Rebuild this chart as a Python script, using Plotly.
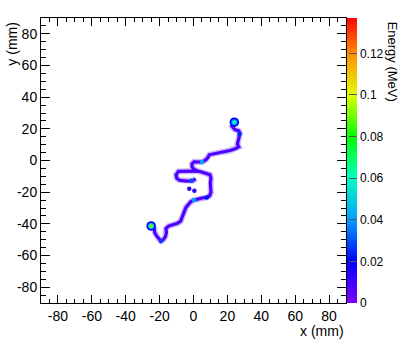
import plotly.graph_objects as go
from plotly.colors import sample_colorscale

# ---------------- data (mm / MeV) ----------------
# main track, from the upper hot spot down to the lower hot spot
track_x = [24.1, 22.7, 24.3, 26.7, 27.4, 26.9, 26.1, 25.9, 26.7, 24.3, 21.5, 18.8,
           16.4, 14.1, 11.3, 9.3, 8.6, 7.2, 5.0, 2.7, 0.3, -0.9, -0.9, -0.1, 1.9,
           4.8, 7.8, 9.7, 10.3, 9.9, 10.1, 10.3, 9.5, 7.8, 5.0, 2.3, 0.3, -1.7,
           -3.2, -4.4, -5.2, -6.0, -6.6, -7.6, -9.5, -12.3, -14.7, -16.2, -16.0,
           -16.6, -17.8, -19.2, -20.6, -21.9, -22.9, -23.1, -24.1, -25.3]
track_y = [24.2, 21.7, 19.6, 18.7, 17.1, 14.9, 12.4, 10.3, 8.6, 7.2, 6.3, 5.7,
           4.9, 4.4, 4.2, 3.6, 1.9, 0.4, -1.0, -1.0, -0.8, -2.1, -4.0, -5.2, -6.5,
           -7.3, -8.2, -9.0, -11.3, -14.1, -17.0, -20.0, -22.3, -23.3, -23.7, -24.4,
           -25.0, -26.1, -27.7, -29.6, -31.7, -33.8, -36.2, -38.3, -39.7, -40.6,
           -41.4, -42.9, -45.6, -48.1, -50.0, -50.9, -49.4, -47.5, -45.4, -43.3,
           -41.8, -41.2]
# side loop of the track
loop_x = [2.9, -4.0, -8.9, -10.3, -9.9, -8.4, -4.0, -0.5, 1.3]
loop_y = [-6.7, -6.7, -6.9, -9.0, -11.1, -12.4, -13.0, -12.8, -11.6]
track_e = 0.008  # typical energy of a track cell

# single-cell deposits
spot_x = [27.1, 5.0, -1.1, 7.8, 0.3, -19.2, -2.5, 0.5]
spot_y = [16.8, -1.0, -12.8, -23.3, -25.0, -50.9, -17.9, -19.1]
spot_e = [0.025, 0.042, 0.030, 0.022, 0.040, 0.028, 0.012, 0.012]

# hot spots (outer / middle / core energy)
blob_x = [24.1, -25.0]
blob_y = [24.2, -41.3]
blob_e_outer = [0.020, 0.020]
blob_e_mid = [0.040, 0.052]
blob_e_core = [0.060, 0.092]

# axis ticks
axis_ticks = [-80, -60, -40, -20, 0, 20, 40, 60, 80]
axis_ticktext = ["-80", "-60", "-40", "-20", "0", "20", "40", "60", "80"]
cbar_ticks = [0, 0.02, 0.04, 0.06, 0.08, 0.10, 0.12]
cbar_ticktext = ["0", "0.02", "0.04", "0.06", "0.08", "0.1", "0.12"]
e_max = 0.137

# ---------------- styling ----------------
FONT = "Liberation Sans, Arial, Helvetica, sans-serif"
colorscale = [
    [0.000, "#8000ff"],
    [0.146, "#0000ff"],
    [0.292, "#00a0ff"],
    [0.438, "#00ffc0"],
    [0.584, "#00ff00"],
    [0.730, "#e0ff00"],
    [0.876, "#ff8c00"],
    [1.000, "#ff0000"],
]
track_color = sample_colorscale(colorscale, [track_e / e_max])[0]
halo_color = "#cbb8ff"

fig = go.Figure()

for xs, ys in [(track_x, track_y), (loop_x, loop_y)]:
    fig.add_trace(go.Scatter(x=xs, y=ys, mode="lines",
                             line=dict(color=halo_color, width=6),
                             hoverinfo="skip", showlegend=False))
for xs, ys in [(track_x, track_y), (loop_x, loop_y)]:
    fig.add_trace(go.Scatter(x=xs, y=ys, mode="lines",
                             line=dict(color=track_color, width=3.2),
                             hoverinfo="skip", showlegend=False))

fig.add_trace(go.Scatter(x=spot_x, y=spot_y, mode="markers",
                         marker=dict(color=spot_e, coloraxis="coloraxis", size=4.5,
                                     line=dict(width=0)),
                         showlegend=False))
for energies, size in [(blob_e_outer, 9.5), (blob_e_mid, 6), (blob_e_core, 3.5)]:
    fig.add_trace(go.Scatter(x=blob_x, y=blob_y, mode="markers",
                             marker=dict(color=energies, coloraxis="coloraxis", size=size,
                                         line=dict(width=0)),
                             showlegend=False))

axis_common = dict(
    range=[-90, 90], showgrid=False, zeroline=False, automargin=False,
    showline=True, linecolor="black", linewidth=1, mirror="allticks",
    ticks="inside", tickcolor="black", tickwidth=1,
    tickvals=axis_ticks, ticktext=axis_ticktext,
    tickfont=dict(family=FONT, size=14, color="black"),
    minor=dict(dtick=5, tick0=0, ticks="inside", tickcolor="black", tickwidth=1),
)
fig.update_xaxes(**axis_common, ticklen=8)
fig.update_xaxes(minor_ticklen=4)
fig.update_yaxes(**axis_common, ticklen=9)
fig.update_yaxes(minor_ticklen=5)

fig.update_layout(
    width=411, height=357, autosize=False, hovermode=False,
    margin=dict(l=41, r=65, t=18, b=54, pad=0, autoexpand=False),
    paper_bgcolor="white", plot_bgcolor="white",
    font=dict(family=FONT, size=14, color="black"),
    coloraxis=dict(
        colorscale=colorscale, cmin=0, cmax=e_max,
        colorbar=dict(
            x=1.003, xanchor="left", y=0.5, yanchor="middle",
            len=1, lenmode="fraction", thickness=10, xpad=0, ypad=0,
            outlinewidth=0, tickvals=cbar_ticks, ticktext=cbar_ticktext,
            ticks="inside", ticklen=8, tickcolor="#555555",
            tickfont=dict(family=FONT, size=12, color="black"),
        ),
    ),
    annotations=[
        dict(text="y (mm)", xref="paper", yref="paper", x=-0.095, y=0.91,
             xanchor="center", yanchor="middle", textangle=-90, showarrow=False,
             font=dict(family=FONT, size=14, color="black")),
        dict(text="x (mm)", xref="paper", yref="paper", x=1.0, y=-0.098,
             xanchor="right", yanchor="middle", showarrow=False,
             font=dict(family=FONT, size=14, color="black")),
        dict(text="Energy (MeV)", xref="paper", yref="paper", x=1.153, y=0.848,
             xanchor="center", yanchor="middle", textangle=90, showarrow=False,
             font=dict(family=FONT, size=13, color="black")),
    ],
)

fig.write_html(
    "out.html",
    config={"displayModeBar": False},
    post_script="document.body.style.margin='0';document.body.style.overflow='hidden';",
)
